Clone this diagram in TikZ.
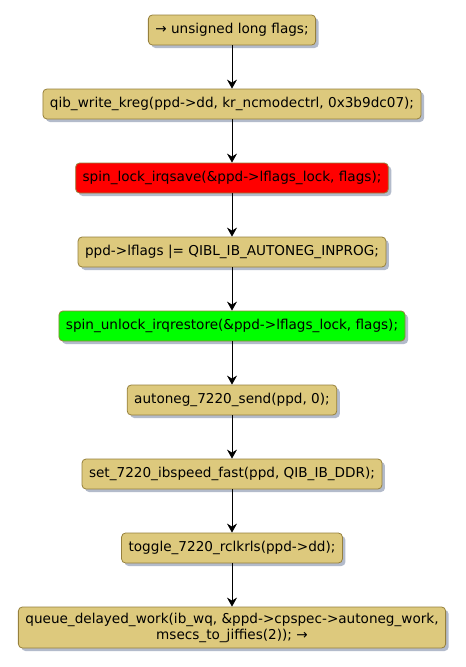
\documentclass[tikz,border=0pt]{standalone}
\usepackage{fontspec}
\setmainfont{DejaVu Sans}
\usetikzlibrary{arrows.meta,shadows}
\definecolor{actfill}{RGB}{221,201,125}
\definecolor{actborder}{RGB}{150,128,60}
\definecolor{shadowc}{RGB}{160,170,190}
\definecolor{redfill}{RGB}{255,0,0}
\definecolor{greenfill}{RGB}{0,255,0}
\tikzset{
  act/.style={draw=actborder, fill=actfill, rounded corners=4pt, line width=0.8pt,
    minimum height=30pt, inner xsep=7pt, inner ysep=3pt, align=center,
    font=\fontsize{13.6pt}{16pt}\selectfont,
    drop shadow={shadow xshift=3pt, shadow yshift=-3pt, fill=shadowc, opacity=0.8}},
  flow/.style={-{Stealth[length=9pt,width=10pt,inset=3pt]}, line width=0.9pt}
}
\begin{document}
\begin{tikzpicture}[x=1pt,y=-1pt]
\useasboundingbox (0,0) rectangle (466,667);
\node[act] (n1) at (232,30) {→ unsigned long flags;};
\node[act] (n2) at (232,104) {qib\_write\_kreg(ppd->dd, kr\_ncmodectrl, 0x3b9dc07);};
\node[act, fill=redfill] (n3) at (232,178) {spin\_lock\_irqsave(\&ppd->lflags\_lock, flags);};
\node[act] (n4) at (232,252) {ppd->lflags |= QIBL\_IB\_AUTONEG\_INPROG;};
\node[act, fill=greenfill] (n5) at (232,326) {spin\_unlock\_irqrestore(\&ppd->lflags\_lock, flags);};
\node[act] (n6) at (232,400) {autoneg\_7220\_send(ppd, 0);};
\node[act] (n7) at (232,474) {set\_7220\_ibspeed\_fast(ppd, QIB\_IB\_DDR);};
\node[act] (n8) at (232,548) {toggle\_7220\_rclkrls(ppd->dd);};
\node[act, minimum height=41pt] (n9) at (232,627.5) {queue\_delayed\_work(ib\_wq, \&ppd->cpspec->autoneg\_work,\\ msecs\_to\_jiffies(2)); →};
\draw[flow] (n1) -- (n2);
\draw[flow] (n2) -- (n3);
\draw[flow] (n3) -- (n4);
\draw[flow] (n4) -- (n5);
\draw[flow] (n5) -- (n6);
\draw[flow] (n6) -- (n7);
\draw[flow] (n7) -- (n8);
\draw[flow] (n8) -- (n9);
\end{tikzpicture}
\end{document}
